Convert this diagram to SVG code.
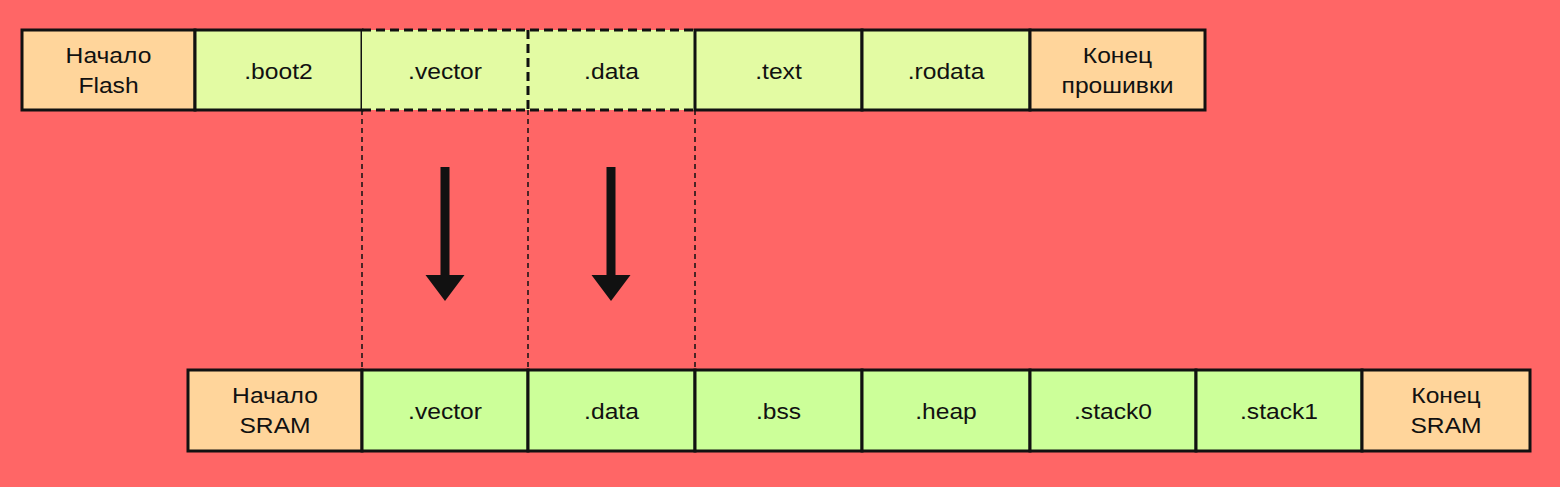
<svg xmlns="http://www.w3.org/2000/svg" width="1560" height="487" viewBox="0 0 1560 487">
  <style>
    .cell { stroke: #111; stroke-width: 3; }
    .dash { stroke: #111; stroke-width: 3; stroke-dasharray: 9 5; }
    .flash { fill: #e3fba3; }
    .sram { fill: #ccff99; }
    .bound { fill: #ffd59b; }
    .lbl { font-family: "Liberation Sans", Arial, sans-serif; font-size: 22px; fill: #111; text-anchor: middle; }
    .guide { stroke: #111; stroke-width: 1.5; stroke-dasharray: 5 4; fill: none; }
  </style>
  <rect width="1560" height="487" fill="#ff6666"/>

  <!-- connectors: guide lines and copy arrows -->
  <g id="connectors">
    <line class="guide" x1="362" y1="110" x2="362" y2="370"/>
    <line class="guide" x1="528" y1="110" x2="528" y2="370"/>
    <line class="guide" x1="695" y1="110" x2="695" y2="370"/>
    <path d="M440.5,167 h9 v108 h15 l-19.5,26 l-19.5,-26 h15 z" fill="#111"/>
    <path d="M606.5,167 h9 v108 h15 l-19.5,26 l-19.5,-26 h15 z" fill="#111"/>
  </g>

  <!-- Flash image layout -->
  <g id="flash-start"><rect class="cell bound" x="22" y="30" width="173" height="80"/><text class="lbl" transform="translate(108.5,63) scale(1.12,1)">Начало</text><text class="lbl" transform="translate(108.5,92.5) scale(1.12,1)">Flash</text></g>
  <g id="flash-boot2"><rect class="cell flash" x="195" y="30" width="167" height="80"/><text class="lbl" transform="translate(278.5,79) scale(1.12,1)">.boot2</text></g>
  <g id="flash-vector"><rect class="flash" x="362" y="30" width="166" height="80"/><text class="lbl" transform="translate(445,79) scale(1.12,1)">.vector</text></g>
  <g id="flash-data"><rect class="flash" x="528" y="30" width="167" height="80"/><text class="lbl" transform="translate(611.5,79) scale(1.12,1)">.data</text></g>
  <g id="flash-text"><rect class="cell flash" x="695" y="30" width="167" height="80"/><text class="lbl" transform="translate(778.5,79) scale(1.12,1)">.text</text></g>
  <g id="flash-rodata"><rect class="cell flash" x="862" y="30" width="168" height="80"/><text class="lbl" transform="translate(946,79) scale(1.12,1)">.rodata</text></g>
  <g id="flash-end"><rect class="cell bound" x="1030" y="30" width="175" height="80"/><text class="lbl" transform="translate(1117.5,63) scale(1.12,1)">Конец</text><text class="lbl" transform="translate(1117.5,92.5) scale(1.12,1)">прошивки</text></g>
  <g id="flash-copy-border">
    <line class="dash" x1="362" y1="30" x2="695" y2="30"/>
    <line class="dash" x1="362" y1="110" x2="695" y2="110"/>
    <line class="dash" x1="528" y1="30" x2="528" y2="110"/>
  </g>

  <!-- SRAM layout -->
  <g id="sram-start"><rect class="cell bound" x="188" y="370" width="174" height="81"/><text class="lbl" transform="translate(275,403) scale(1.12,1)">Начало</text><text class="lbl" transform="translate(275,432.5) scale(1.12,1)">SRAM</text></g>
  <g id="sram-vector"><rect class="cell sram" x="362" y="370" width="166" height="81"/><text class="lbl" transform="translate(445,418.5) scale(1.12,1)">.vector</text></g>
  <g id="sram-data"><rect class="cell sram" x="528" y="370" width="167" height="81"/><text class="lbl" transform="translate(611.5,418.5) scale(1.12,1)">.data</text></g>
  <g id="sram-bss"><rect class="cell sram" x="695" y="370" width="167" height="81"/><text class="lbl" transform="translate(778.5,418.5) scale(1.12,1)">.bss</text></g>
  <g id="sram-heap"><rect class="cell sram" x="862" y="370" width="168" height="81"/><text class="lbl" transform="translate(946,418.5) scale(1.12,1)">.heap</text></g>
  <g id="sram-stack0"><rect class="cell sram" x="1030" y="370" width="166" height="81"/><text class="lbl" transform="translate(1113,418.5) scale(1.12,1)">.stack0</text></g>
  <g id="sram-stack1"><rect class="cell sram" x="1196" y="370" width="166" height="81"/><text class="lbl" transform="translate(1279,418.5) scale(1.12,1)">.stack1</text></g>
  <g id="sram-end"><rect class="cell bound" x="1362" y="370" width="168" height="81"/><text class="lbl" transform="translate(1446,403) scale(1.12,1)">Конец</text><text class="lbl" transform="translate(1446,432.5) scale(1.12,1)">SRAM</text></g>
</svg>
